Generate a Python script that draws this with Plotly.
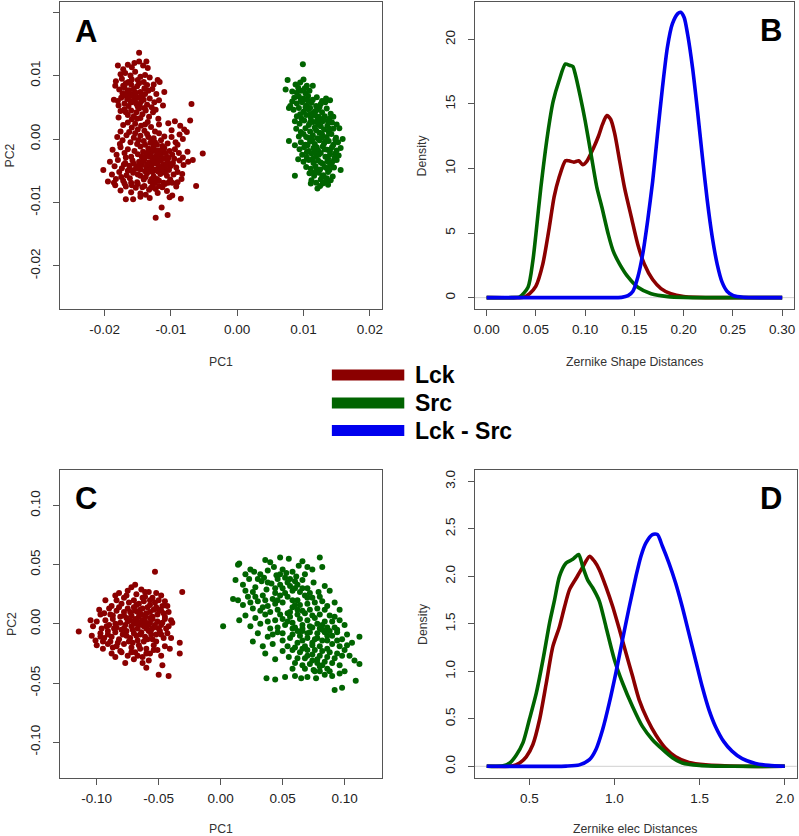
import plotly.graph_objects as go

W, H = 799, 836

# ---------------- DATA ----------------
# Panel A : PCA of Zernike shape descriptors (PC1, PC2)
lck_a = [
    (-14.8e-3, 13.6e-3), (-13.7e-3, 12.2e-3), (-18.0e-3, 11.6e-3), (-16.5e-3, 11.7e-3), (-15.5e-3, 12.0e-3),
    (-14.8e-3, 12.2e-3), (-13.5e-3, 11.2e-3), (-15.9e-3, 11.3e-3), (-17.2e-3, 11.0e-3), (-14.2e-3, 11.6e-3),
    (-18.3e-3, 9.1e-3), (-17.6e-3, 10.2e-3), (-16.9e-3, 10.4e-3), (-16.1e-3, 10.0e-3), (-15.4e-3, 10.6e-3),
    (-14.6e-3, 9.8e-3), (-13.9e-3, 10.1e-3), (-13.2e-3, 9.7e-3), (-12.0e-3, 9.3e-3), (-11.7e-3, 9.0e-3),
    (-15.0e-3, 9.3e-3), (-16.4e-3, 9.0e-3), (-17.4e-3, 9.5e-3), (-14.1e-3, 9.0e-3), (-12.6e-3, 8.6e-3),
    (-18.4e-3, 8.4e-3), (-17.8e-3, 7.8e-3), (-17.0e-3, 8.1e-3), (-16.5e-3, 7.5e-3), (-16.0e-3, 8.6e-3),
    (-15.6e-3, 7.9e-3), (-15.1e-3, 8.3e-3), (-14.6e-3, 7.4e-3), (-14.0e-3, 8.0e-3), (-13.4e-3, 7.6e-3),
    (-12.8e-3, 7.9e-3), (-11.0e-3, 7.4e-3), (-12.2e-3, 7.1e-3), (-17.3e-3, 7.2e-3), (-15.8e-3, 7.1e-3),
    (-14.4e-3, 7.0e-3), (-16.8e-3, 8.8e-3),
    (-18.6e-3, 6.2e-3), (-18.0e-3, 6.0e-3), (-17.5e-3, 6.5e-3), (-17.0e-3, 5.6e-3), (-16.6e-3, 6.3e-3),
    (-16.2e-3, 6.8e-3), (-15.9e-3, 5.8e-3), (-15.5e-3, 6.4e-3), (-15.2e-3, 5.5e-3), (-14.9e-3, 6.6e-3),
    (-14.5e-3, 5.9e-3), (-14.1e-3, 6.2e-3), (-13.6e-3, 5.4e-3), (-13.2e-3, 6.4e-3), (-12.5e-3, 5.8e-3),
    (-11.8e-3, 6.1e-3), (-16.4e-3, 5.2e-3), (-15.0e-3, 5.1e-3), (-17.9e-3, 5.3e-3), (-14.3e-3, 6.9e-3),
    (-15.7e-3, 6.9e-3), (-12.9e-3, 5.0e-3), (-11.2e-3, 5.3e-3),
    (-17.6e-3, 4.4e-3), (-17.0e-3, 4.7e-3), (-16.5e-3, 3.8e-3), (-16.0e-3, 4.5e-3), (-15.6e-3, 3.6e-3),
    (-15.2e-3, 4.2e-3), (-14.8e-3, 4.8e-3), (-14.3e-3, 3.9e-3), (-13.8e-3, 4.5e-3), (-13.3e-3, 3.5e-3),
    (-12.7e-3, 4.2e-3), (-11.9e-3, 3.2e-3), (-17.9e-3, 3.4e-3), (-15.9e-3, 3.1e-3), (-14.6e-3, 3.3e-3),
    (-12.3e-3, 4.6e-3), (-6.9e-3, 5.5e-3),
    (-17.2e-3, 2.2e-3), (-16.5e-3, 2.6e-3), (-15.9e-3, 1.8e-3), (-15.4e-3, 2.4e-3), (-15.0e-3, 1.5e-3),
    (-14.5e-3, 2.1e-3), (-14.0e-3, 1.3e-3), (-13.5e-3, 2.7e-3), (-13.0e-3, 1.9e-3), (-12.4e-3, 1.2e-3),
    (-11.8e-3, 2.3e-3), (-17.6e-3, 1.2e-3), (-16.3e-3, 1.1e-3), (-9.4e-3, 2.8e-3), (-8.6e-3, 2.1e-3),
    (-7.1e-3, 2.9e-3), (-9.9e-3, 1.4e-3), (-8.0e-3, 1.5e-3), (-10.4e-3, 2.5e-3), (-7.6e-3, 1.1e-3),
    (-18.1e-3, 0.3e-3), (-17.3e-3, -0.2e-3), (-16.7e-3, 0.6e-3), (-16.1e-3, -0.5e-3), (-15.6e-3, 0.2e-3),
    (-15.1e-3, -0.8e-3), (-14.6e-3, 0.5e-3), (-14.1e-3, -0.3e-3), (-13.6e-3, 0.8e-3), (-13.1e-3, -0.6e-3),
    (-12.6e-3, 0.1e-3), (-12.1e-3, -0.9e-3), (-11.5e-3, -0.2e-3), (-11.0e-3, 0.4e-3), (-10.5e-3, -0.7e-3),
    (-9.9e-3, 0.3e-3), (-9.3e-3, -0.5e-3), (-8.7e-3, 0.7e-3), (-13.9e-3, -0.9e-3), (-12.9e-3, -0.2e-3),
    (-11.8e-3, 0.9e-3), (-15.4e-3, 0.9e-3), (-17.7e-3, -0.8e-3), (-9.0e-3, -0.9e-3), (-8.2e-3, 0.0e-3),
    (-18.8e-3, -1.7e-3), (-18.2e-3, -2.5e-3), (-17.6e-3, -1.3e-3), (-17.0e-3, -2.2e-3), (-16.5e-3, -1.6e-3),
    (-16.0e-3, -2.8e-3), (-15.5e-3, -1.9e-3), (-15.0e-3, -2.4e-3), (-14.6e-3, -1.2e-3), (-14.2e-3, -2.0e-3),
    (-13.8e-3, -2.7e-3), (-13.4e-3, -1.5e-3), (-13.0e-3, -2.2e-3), (-12.6e-3, -1.1e-3), (-12.2e-3, -2.6e-3),
    (-11.8e-3, -1.8e-3), (-11.4e-3, -2.3e-3), (-11.0e-3, -1.4e-3), (-10.6e-3, -2.8e-3), (-10.2e-3, -1.9e-3),
    (-9.8e-3, -2.5e-3), (-9.4e-3, -1.6e-3), (-8.8e-3, -2.2e-3), (-8.2e-3, -2.9e-3), (-7.5e-3, -2.0e-3),
    (-5.2e-3, -2.3e-3), (-12.8e-3, -2.9e-3), (-11.6e-3, -2.9e-3), (-13.6e-3, -2.2e-3), (-12.4e-3, -1.8e-3),
    (-11.2e-3, -1.7e-3), (-14.4e-3, -2.8e-3), (-16.8e-3, -2.9e-3),
    (-19.2e-3, -3.6e-3), (-18.5e-3, -4.3e-3), (-18.0e-3, -3.3e-3), (-17.4e-3, -4.6e-3), (-16.9e-3, -3.8e-3),
    (-16.3e-3, -4.2e-3), (-15.8e-3, -3.4e-3), (-15.3e-3, -4.7e-3), (-14.8e-3, -3.6e-3), (-14.4e-3, -4.1e-3),
    (-14.0e-3, -3.2e-3), (-13.7e-3, -4.5e-3), (-13.3e-3, -3.7e-3), (-13.0e-3, -4.2e-3), (-12.7e-3, -3.4e-3),
    (-12.4e-3, -4.8e-3), (-12.1e-3, -3.9e-3), (-11.8e-3, -4.4e-3), (-11.5e-3, -3.3e-3), (-11.2e-3, -4.0e-3),
    (-10.9e-3, -4.6e-3), (-10.5e-3, -3.5e-3), (-10.1e-3, -4.3e-3), (-9.7e-3, -3.8e-3), (-9.2e-3, -4.5e-3),
    (-8.7e-3, -3.4e-3), (-8.1e-3, -4.1e-3), (-7.4e-3, -3.6e-3), (-6.7e-3, -3.3e-3), (-13.5e-3, -4.9e-3),
    (-12.2e-3, -3.1e-3), (-11.0e-3, -3.1e-3), (-14.6e-3, -4.8e-3), (-15.6e-3, -3.9e-3), (-12.9e-3, -4.6e-3),
    (-11.6e-3, -4.9e-3), (-10.3e-3, -4.9e-3), (-16.0e-3, -4.9e-3),
    (-20.2e-3, -4.9e-3), (-19.5e-3, -6.7e-3), (-18.9e-3, -5.6e-3), (-18.3e-3, -6.3e-3), (-17.8e-3, -5.2e-3),
    (-17.2e-3, -6.6e-3), (-16.7e-3, -5.7e-3), (-16.2e-3, -6.2e-3), (-15.7e-3, -5.3e-3), (-15.1e-3, -6.8e-3),
    (-14.6e-3, -5.8e-3), (-14.1e-3, -6.4e-3), (-13.6e-3, -5.4e-3), (-13.1e-3, -6.7e-3), (-12.6e-3, -5.9e-3),
    (-12.1e-3, -6.3e-3), (-11.6e-3, -5.5e-3), (-11.1e-3, -6.9e-3), (-10.6e-3, -5.8e-3), (-10.1e-3, -6.4e-3),
    (-9.6e-3, -5.6e-3), (-9.0e-3, -6.8e-3), (-8.3e-3, -5.5e-3), (-6.2e-3, -7.4e-3), (-18.6e-3, -6.9e-3),
    (-17.5e-3, -6.0e-3), (-16.0e-3, -6.9e-3), (-13.9e-3, -5.1e-3), (-12.4e-3, -6.9e-3), (-11.3e-3, -5.2e-3),
    (-9.8e-3, -6.9e-3),
    (-18.4e-3, -7.3e-3), (-17.6e-3, -8.1e-3), (-16.8e-3, -7.5e-3), (-16.0e-3, -8.4e-3), (-15.3e-3, -7.7e-3),
    (-14.6e-3, -8.6e-3), (-14.0e-3, -7.4e-3), (-13.3e-3, -8.0e-3), (-12.7e-3, -7.2e-3), (-12.0e-3, -8.5e-3),
    (-11.3e-3, -7.6e-3), (-10.6e-3, -8.2e-3), (-9.8e-3, -8.9e-3), (-9.2e-3, -7.5e-3), (-15.0e-3, -7.1e-3),
    (-13.8e-3, -8.8e-3), (-12.3e-3, -7.9e-3), (-10.9e-3, -7.1e-3),
    (-16.8e-3, -9.5e-3), (-15.7e-3, -9.5e-3), (-14.6e-3, -9.1e-3), (-13.2e-3, -9.3e-3), (-11.4e-3, -10.8e-3),
    (-12.3e-3, -12.4e-3), (-10.5e-3, -12.0e-3), (-8.5e-3, -9.4e-3), (-10.2e-3, -9.2e-3),
    # dense cores
    (-16.3e-3, 7.7e-3), (-15.3e-3, 7.3e-3), (-14.8e-3, 8.8e-3), (-16.9e-3, 6.9e-3), (-15.4e-3, 5.9e-3),
    (-14.7e-3, 5.4e-3), (-16.1e-3, 6.0e-3), (-13.9e-3, 7.1e-3), (-17.2e-3, 8.4e-3), (-15.9e-3, 9.4e-3),
    (-13.6e-3, 8.5e-3), (-14.0e-3, 4.9e-3), (-16.8e-3, 4.2e-3), (-15.1e-3, 3.2e-3), (-13.9e-3, 2.3e-3),
    (-14.9e-3, -0.2e-3), (-13.4e-3, 0.3e-3), (-12.4e-3, -0.5e-3), (-11.3e-3, -1.1e-3), (-10.8e-3, -2.2e-3),
    (-11.9e-3, -2.4e-3), (-12.9e-3, -1.6e-3), (-13.2e-3, -2.8e-3), (-12.5e-3, -3.8e-3), (-11.9e-3, -3.5e-3),
    (-11.4e-3, -4.7e-3), (-10.7e-3, -4.1e-3), (-13.6e-3, -4.0e-3), (-14.2e-3, -3.5e-3), (-12.8e-3, -5.2e-3),
    (-12.0e-3, -5.1e-3), (-10.9e-3, -5.3e-3), (-9.9e-3, -4.0e-3), (-9.5e-3, -3.1e-3), (-10.4e-3, -3.0e-3),
    (-12.9e-3, -6.3e-3), (-11.8e-3, -6.6e-3), (-10.4e-3, -6.9e-3), (-13.8e-3, -6.0e-3), (-15.0e-3, -5.6e-3),
    (-16.5e-3, -5.0e-3), (-17.1e-3, -4.0e-3), (-15.1e-3, -4.3e-3), (-14.3e-3, -7.6e-3), (-11.8e-3, -7.4e-3),
    (-13.0e-3, -7.7e-3), (-15.9e-3, -7.3e-3), (-17.0e-3, -7.0e-3), (-9.0e-3, -5.2e-3), (-8.4e-3, -6.3e-3),
]

src_a = [
    (9.9e-3, 11.8e-3), (7.6e-3, 9.3e-3), (10.0e-3, 9.4e-3), (8.8e-3, 8.6e-3), (9.5e-3, 8.9e-3),
    (10.5e-3, 8.4e-3), (7.3e-3, 7.8e-3), (11.4e-3, 8.4e-3), (9.2e-3, 8.1e-3), (10.2e-3, 8.0e-3),
    (8.3e-3, 7.5e-3), (9.0e-3, 7.3e-3), (9.6e-3, 7.6e-3), (10.3e-3, 7.2e-3), (10.9e-3, 7.6e-3),
    (8.6e-3, 6.5e-3), (9.3e-3, 6.7e-3), (10.0e-3, 6.4e-3), (10.7e-3, 6.8e-3), (11.4e-3, 6.2e-3),
    (12.0e-3, 6.6e-3), (13.4e-3, 6.4e-3), (12.8e-3, 6.0e-3), (8.3e-3, 5.9e-3), (9.0e-3, 5.6e-3),
    (9.8e-3, 5.8e-3), (10.5e-3, 5.3e-3), (11.2e-3, 5.7e-3), (11.9e-3, 5.2e-3), (12.6e-3, 5.5e-3),
    (13.3e-3, 5.8e-3), (14.0e-3, 6.1e-3), (8.0e-3, 5.2e-3), (7.8e-3, 4.9e-3),
    (8.5e-3, 4.6e-3), (9.3e-3, 4.9e-3), (10.0e-3, 4.3e-3), (10.7e-3, 4.7e-3), (11.4e-3, 4.1e-3),
    (12.1e-3, 4.6e-3), (12.8e-3, 4.2e-3), (13.5e-3, 4.8e-3), (14.1e-3, 4.0e-3), (9.0e-3, 3.6e-3),
    (9.7e-3, 3.2e-3), (10.4e-3, 3.8e-3), (11.1e-3, 3.3e-3), (11.8e-3, 3.7e-3), (12.5e-3, 3.1e-3),
    (13.2e-3, 3.6e-3), (13.9e-3, 3.2e-3), (14.5e-3, 3.5e-3), (8.7e-3, 2.8e-3), (9.4e-3, 2.4e-3),
    (10.1e-3, 2.9e-3), (10.8e-3, 2.2e-3), (11.5e-3, 2.7e-3), (12.2e-3, 2.3e-3), (12.9e-3, 2.8e-3),
    (13.6e-3, 2.1e-3), (14.3e-3, 2.6e-3), (15.0e-3, 2.3e-3), (11.0e-3, 4.9e-3), (12.4e-3, 5.0e-3),
    (8.9e-3, 1.6e-3), (9.6e-3, 1.1e-3), (10.3e-3, 1.7e-3), (11.0e-3, 1.2e-3), (11.7e-3, 1.8e-3),
    (12.4e-3, 1.0e-3), (13.1e-3, 1.5e-3), (13.8e-3, 1.1e-3), (14.5e-3, 1.6e-3), (15.4e-3, 1.7e-3),
    (9.3e-3, 0.4e-3), (10.0e-3, 0.8e-3), (10.7e-3, 0.2e-3), (11.4e-3, 0.6e-3), (12.1e-3, 0.1e-3),
    (12.8e-3, 0.7e-3), (13.5e-3, 0.3e-3), (14.2e-3, 0.8e-3), (14.9e-3, 0.2e-3), (15.9e-3, 0.0e-3),
    (7.8e-3, -0.3e-3), (8.7e-3, -1.0e-3), (9.6e-3, -0.5e-3), (10.3e-3, -0.9e-3), (11.0e-3, -0.4e-3),
    (11.7e-3, -0.8e-3), (12.4e-3, -0.2e-3), (13.1e-3, -0.7e-3), (13.8e-3, -0.3e-3), (14.5e-3, -0.9e-3),
    (15.2e-3, -0.5e-3),
    (9.4e-3, -1.6e-3), (10.1e-3, -1.3e-3), (10.8e-3, -1.9e-3), (11.5e-3, -1.4e-3), (12.2e-3, -1.8e-3),
    (12.9e-3, -1.2e-3), (13.6e-3, -1.7e-3), (14.3e-3, -1.3e-3), (15.0e-3, -1.8e-3), (15.6e-3, -1.4e-3),
    (9.8e-3, -2.5e-3), (10.5e-3, -2.9e-3), (11.2e-3, -2.3e-3), (11.9e-3, -2.7e-3), (12.6e-3, -2.2e-3),
    (13.3e-3, -2.8e-3), (14.0e-3, -2.4e-3), (14.7e-3, -2.9e-3), (15.3e-3, -2.6e-3), (10.0e-3, -3.6e-3),
    (10.8e-3, -3.3e-3), (11.5e-3, -3.8e-3), (12.2e-3, -3.4e-3), (12.9e-3, -3.9e-3), (13.6e-3, -3.5e-3),
    (14.3e-3, -3.7e-3), (15.0e-3, -3.3e-3), (9.2e-3, -3.2e-3),
    (10.4e-3, -4.4e-3), (11.1e-3, -4.7e-3), (11.8e-3, -4.3e-3), (12.5e-3, -4.8e-3), (13.2e-3, -4.4e-3),
    (13.9e-3, -4.9e-3), (14.6e-3, -4.5e-3), (15.6e-3, -4.9e-3), (8.7e-3, -5.8e-3), (10.9e-3, -5.4e-3),
    (11.6e-3, -5.8e-3), (12.3e-3, -5.3e-3), (13.0e-3, -5.7e-3), (13.7e-3, -5.2e-3), (14.4e-3, -5.9e-3),
    (11.2e-3, -6.5e-3), (11.9e-3, -6.9e-3), (12.6e-3, -6.4e-3), (13.3e-3, -6.8e-3), (14.1e-3, -6.5e-3),
    (12.1e-3, -7.8e-3), (11.1e-3, -7.0e-3), (12.5e-3, -7.4e-3), (13.7e-3, -7.2e-3),
    # dense core
    (10.6e-3, 6.1e-3), (11.0e-3, 3.9e-3), (11.8e-3, 4.4e-3), (12.3e-3, 3.5e-3), (13.0e-3, 3.2e-3),
    (12.6e-3, 2.0e-3), (11.9e-3, 1.4e-3), (12.7e-3, 0.2e-3), (13.3e-3, -0.4e-3), (12.0e-3, -1.3e-3),
    (13.2e-3, -1.6e-3), (14.0e-3, -1.9e-3), (12.3e-3, -2.5e-3), (13.7e-3, -3.1e-3), (12.6e-3, -3.7e-3),
    (13.5e-3, -4.6e-3), (12.0e-3, -4.9e-3), (14.0e-3, -4.1e-3), (12.8e-3, -6.0e-3), (13.5e-3, -6.2e-3),
    (11.6e-3, -2.1e-3), (10.6e-3, -1.0e-3), (10.4e-3, 0.3e-3), (11.3e-3, -0.1e-3), (14.8e-3, -0.1e-3),
    (14.8e-3, -2.3e-3), (9.5e-3, 3.9e-3), (10.3e-3, 5.0e-3), (9.6e-3, 6.2e-3), (12.1e-3, 3.0e-3),
    (13.7e-3, 2.8e-3), (11.0e-3, 2.6e-3), (10.5e-3, -2.1e-3), (11.4e-3, -3.1e-3), (14.6e-3, -3.3e-3),
    (13.9e-3, 1.6e-3), (11.6e-3, -5.3e-3), (12.9e-3, -7.0e-3),
]

# Panel C : PCA of Zernike electrostatic descriptors (PC1, PC2)
lck_c = [
    (-114.5e-3, -6.5e-3), (-31e-3, 27e-3), (-33e-3, -16e-3), (-33e-3, -25e-3), (-53e-3, 44e-3),
    (-42e-3, -44e-3), (-50e-3, -43e-3), (-47e-3, -35e-3), (-105e-3, 3e-3), (-97e-3, 8e-3),
    (-93e-3, 20e-3), (-60e-3, -37e-3), (-69e-3, 33e-3), (-82e-3, 26e-3),
    (-85e-3, 24e-3), (-78e-3, 22e-3), (-75e-3, 28e-3), (-72e-3, 31e-3), (-68e-3, 25e-3),
    (-64e-3, 29e-3), (-61e-3, 23e-3), (-58e-3, 27e-3), (-55e-3, 22e-3), (-52e-3, 26e-3),
    (-48e-3, 24e-3), (-45e-3, 19e-3), (-80e-3, 17e-3), (-74e-3, 18e-3), (-70e-3, 20e-3),
    (-66e-3, 17e-3), (-62e-3, 19e-3), (-57e-3, 16e-3), (-53e-3, 18e-3), (-88e-3, 15e-3), (-43e-3, 15e-3),
    (-98e-3, 12e-3), (-94e-3, 9e-3), (-90e-3, 13e-3), (-87e-3, 7e-3), (-84e-3, 11e-3),
    (-81e-3, 6e-3), (-78e-3, 10e-3), (-75e-3, 13e-3), (-72e-3, 7e-3), (-69e-3, 11e-3),
    (-66e-3, 6e-3), (-63e-3, 13e-3), (-60e-3, 9e-3), (-57e-3, 5e-3), (-54e-3, 12e-3),
    (-51e-3, 8e-3), (-48e-3, 11e-3), (-45e-3, 6e-3), (-42e-3, 10e-3), (-40e-3, 3e-3),
    (-70e-3, 14e-3), (-59e-3, 14e-3), (-76e-3, 5e-3), (-64e-3, 8e-3), (-55e-3, 6e-3),
    (-82e-3, 14e-3), (-67e-3, 10e-3), (-52e-3, 14e-3),
    (-103e-3, -2e-3), (-100e-3, 2e-3), (-96e-3, -4e-3), (-93e-3, 3e-3), (-90e-3, -1e-3),
    (-87e-3, 4e-3), (-84e-3, -3e-3), (-81e-3, 1e-3), (-78e-3, -4e-3), (-75e-3, 2e-3),
    (-72e-3, -2e-3), (-69e-3, 4e-3), (-66e-3, -1e-3), (-63e-3, 3e-3), (-60e-3, -4e-3),
    (-57e-3, 1e-3), (-54e-3, -3e-3), (-51e-3, 2e-3), (-48e-3, -1e-3), (-45e-3, 4e-3),
    (-42e-3, -2e-3), (-39e-3, 1e-3), (-70e-3, 0e-3), (-64e-3, 0e-3), (-58e-3, -1e-3),
    (-77e-3, -1e-3), (-61e-3, 2e-3), (-67e-3, -4e-3), (-55e-3, 4e-3), (-85e-3, 0e-3),
    (-104e-3, -10e-3), (-101e-3, -14e-3), (-97e-3, -8e-3), (-94e-3, -12e-3), (-91e-3, -6e-3),
    (-88e-3, -11e-3), (-85e-3, -7e-3), (-82e-3, -13e-3), (-79e-3, -9e-3), (-76e-3, -6e-3),
    (-73e-3, -12e-3), (-70e-3, -8e-3), (-67e-3, -14e-3), (-64e-3, -7e-3), (-61e-3, -11e-3),
    (-58e-3, -6e-3), (-55e-3, -13e-3), (-52e-3, -9e-3), (-49e-3, -6e-3), (-46e-3, -12e-3),
    (-43e-3, -8e-3), (-74e-3, -15e-3), (-62e-3, -15e-3), (-68e-3, -10e-3), (-56e-3, -9e-3),
    (-80e-3, -5e-3), (-89e-3, -15e-3),
    (-100e-3, -18e-3), (-95e-3, -21e-3), (-91e-3, -17e-3), (-88e-3, -25e-3), (-84e-3, -19e-3),
    (-81e-3, -23e-3), (-78e-3, -17e-3), (-75e-3, -27e-3), (-72e-3, -20e-3), (-69e-3, -24e-3),
    (-66e-3, -18e-3), (-63e-3, -28e-3), (-60e-3, -21e-3), (-57e-3, -25e-3), (-54e-3, -18e-3),
    (-51e-3, -22e-3), (-48e-3, -27e-3), (-45e-3, -19e-3), (-85e-3, -28e-3), (-70e-3, -30e-3),
    (-58e-3, -31e-3), (-63e-3, -33e-3), (-41e-3, -21e-3), (-77e-3, -33e-3),
    # dense core
    (-73e-3, 3e-3), (-67e-3, 2e-3), (-62e-3, -2e-3), (-56e-3, -5e-3), (-71e-3, -5e-3),
    (-65e-3, -9e-3), (-59e-3, -13e-3), (-53e-3, -1e-3), (-50e-3, -4e-3), (-47e-3, 1e-3),
    (-78e-3, 7e-3), (-73e-3, 10e-3), (-65e-3, 12e-3), (-61e-3, 6e-3), (-57e-3, 10e-3),
    (-50e-3, 12e-3), (-46e-3, 9e-3), (-68e-3, 16e-3), (-63e-3, 22e-3), (-57e-3, 20e-3),
    (-50e-3, 20e-3), (-76e-3, -10e-3), (-71e-3, -16e-3), (-65e-3, -21e-3), (-86e-3, -4e-3),
    (-91e-3, -9e-3), (-83e-3, -16e-3), (-95e-3, -15e-3), (-97e-3, -11e-3), (-52e-3, -15e-3),
    (-48e-3, -9e-3), (-44e-3, -4e-3), (-60e-3, -25e-3), (-67e-3, -27e-3), (-72e-3, -24e-3),
    (-80e-3, -24e-3), (-87e-3, -20e-3), (-92e-3, -2e-3), (-89e-3, 8e-3), (-84e-3, 20e-3),
    (-76e-3, 24e-3), (-61e-3, 27e-3), (-47e-3, 15e-3), (-40e-3, -12e-3), (-54e-3, -22e-3),
]

src_c = [
    (15e-3, 51e-3), (14e-3, 50e-3), (36e-3, 54e-3), (48e-3, 56e-3), (55e-3, 55e-3),
    (80e-3, 56e-3), (82e-3, 48e-3), (27e-3, 44e-3), (32e-3, 42e-3), (38e-3, 45e-3),
    (43e-3, 48e-3), (50e-3, 46e-3), (58e-3, 44e-3), (63e-3, 49e-3), (68e-3, 42e-3),
    (74e-3, 46e-3), (20e-3, 42e-3), (45e-3, 41e-3), (53e-3, 43e-3), (61e-3, 40e-3),
    (70e-3, 48e-3), (24e-3, 46e-3), (40e-3, 52e-3), (66e-3, 53e-3),
    (12e-3, 37e-3), (18e-3, 33e-3), (23e-3, 38e-3), (28e-3, 31e-3), (33e-3, 36e-3),
    (37e-3, 29e-3), (41e-3, 34e-3), (46e-3, 38e-3), (50e-3, 30e-3), (54e-3, 35e-3),
    (58e-3, 28e-3), (62e-3, 33e-3), (66e-3, 37e-3), (70e-3, 30e-3), (75e-3, 35e-3),
    (79e-3, 27e-3), (84e-3, 32e-3), (26e-3, 27e-3), (44e-3, 26e-3), (52e-3, 39e-3),
    (60e-3, 36e-3), (72e-3, 26e-3), (35e-3, 39e-3), (48e-3, 33e-3), (64e-3, 27e-3),
    (88e-3, 28e-3), (20e-3, 28e-3), (56e-3, 32e-3),
    (10e-3, 21e-3), (14e-3, 20e-3), (18e-3, 16e-3), (22e-3, 23e-3), (26e-3, 13e-3),
    (30e-3, 19e-3), (34e-3, 24e-3), (38e-3, 15e-3), (42e-3, 21e-3), (46e-3, 12e-3),
    (50e-3, 18e-3), (54e-3, 23e-3), (58e-3, 14e-3), (62e-3, 20e-3), (66e-3, 11e-3),
    (70e-3, 17e-3), (74e-3, 22e-3), (78e-3, 13e-3), (82e-3, 19e-3), (86e-3, 15e-3),
    (92e-3, 18e-3), (96e-3, 12e-3), (32e-3, 11e-3), (44e-3, 17e-3), (56e-3, 10e-3),
    (68e-3, 24e-3), (80e-3, 23e-3), (48e-3, 24e-3), (60e-3, 16e-3), (36e-3, 20e-3),
    (72e-3, 12e-3), (24e-3, 18e-3),
    (15e-3, 3e-3), (20e-3, 7e-3), (24e-3, -2e-3), (28e-3, 5e-3), (32e-3, 0e-3),
    (36e-3, 8e-3), (40e-3, -4e-3), (44e-3, 3e-3), (48e-3, 8e-3), (52e-3, -1e-3),
    (56e-3, 6e-3), (60e-3, -3e-3), (64e-3, 4e-3), (68e-3, 9e-3), (72e-3, -2e-3),
    (76e-3, 5e-3), (80e-3, -4e-3), (84e-3, 2e-3), (88e-3, 7e-3), (92e-3, -3e-3),
    (96e-3, 3e-3), (100e-3, -1e-3), (2e-3, -2e-3), (46e-3, -3e-3), (58e-3, 1e-3),
    (70e-3, 3e-3), (82e-3, -1e-3), (62e-3, 8e-3), (74e-3, 7e-3), (50e-3, 4e-3),
    (66e-3, -4e-3), (86e-3, -3e-3), (54e-3, 9e-3), (78e-3, 0e-3), (90e-3, 2e-3),
    (38e-3, 2e-3), (94e-3, -5e-3),
    (26e-3, -15e-3), (30e-3, -8e-3), (34e-3, -19e-3), (38e-3, -11e-3), (42e-3, -17e-3),
    (46e-3, -7e-3), (50e-3, -14e-3), (54e-3, -19e-3), (58e-3, -9e-3), (62e-3, -16e-3),
    (66e-3, -6e-3), (70e-3, -12e-3), (74e-3, -18e-3), (78e-3, -8e-3), (82e-3, -14e-3),
    (86e-3, -10e-3), (90e-3, -17e-3), (94e-3, -7e-3), (98e-3, -13e-3), (102e-3, -9e-3),
    (106e-3, -16e-3), (112e-3, -11e-3), (56e-3, -12e-3), (68e-3, -19e-3), (80e-3, -19e-3),
    (76e-3, -13e-3), (64e-3, -10e-3), (88e-3, -6e-3), (72e-3, -7e-3), (96e-3, -19e-3),
    (60e-3, -20e-3), (84e-3, -7e-3),
    (36e-3, -25e-3), (44e-3, -30e-3), (50e-3, -23e-3), (55e-3, -28e-3), (60e-3, -33e-3),
    (64e-3, -24e-3), (68e-3, -29e-3), (72e-3, -34e-3), (76e-3, -22e-3), (80e-3, -27e-3),
    (84e-3, -32e-3), (88e-3, -24e-3), (92e-3, -29e-3), (96e-3, -35e-3), (100e-3, -22e-3),
    (104e-3, -27e-3), (108e-3, -31e-3), (112e-3, -34e-3), (66e-3, -35e-3), (78e-3, -33e-3),
    (86e-3, -21e-3), (94e-3, -25e-3), (74e-3, -26e-3), (58e-3, -22e-3), (70e-3, -22e-3),
    (82e-3, -35e-3),
    (37e-3, -46e-3), (44e-3, -47e-3), (52e-3, -45e-3), (60e-3, -44e-3), (65e-3, -46e-3),
    (70e-3, -45e-3), (77e-3, -46e-3), (80e-3, -40e-3), (86e-3, -38e-3), (92e-3, -56e-3),
    (98e-3, -54e-3), (109e-3, -48e-3), (75e-3, -39e-3), (90e-3, -44e-3), (96e-3, -42e-3),
    (68e-3, -38e-3), (84e-3, -43e-3), (58e-3, -38e-3), (100e-3, -40e-3),
    # dense core
    (62e-3, -6e-3), (66e-3, -1e-3), (70e-3, -8e-3), (74e-3, -3e-3), (78e-3, -12e-3),
    (82e-3, -5e-3), (86e-3, -14e-3), (90e-3, -10e-3), (74e-3, -16e-3), (66e-3, -14e-3),
    (58e-3, -4e-3), (54e-3, 2e-3), (62e-3, 12e-3), (58e-3, 20e-3), (52e-3, 26e-3),
    (46e-3, 20e-3), (40e-3, 10e-3), (44e-3, 30e-3), (38e-3, 35e-3), (30e-3, 38e-3),
    (34e-3, 14e-3), (28e-3, 23e-3), (64e-3, 16e-3), (76e-3, 18e-3), (70e-3, -27e-3),
    (78e-3, -30e-3), (82e-3, -23e-3), (90e-3, -33e-3), (86e-3, -28e-3), (74e-3, -31e-3),
    (62e-3, -29e-3), (98e-3, -27e-3), (102e-3, -18e-3), (94e-3, -14e-3), (80e-3, 8e-3),
    (70e-3, 22e-3), (56e-3, 38e-3), (48e-3, 42e-3), (60e-3, 30e-3), (66e-3, 30e-3),
    (92e-3, 6e-3), (84e-3, 12e-3), (42e-3, -9e-3), (50e-3, -8e-3), (66e-3, -21e-3),
    (88e-3, -40e-3), (80e-3, -36e-3), (76e-3, -40e-3),
]

# Panel B : density of Zernike shape distances
b_lck_x = [0.0, 0.030, 0.037, 0.0434, 0.050, 0.057, 0.0635, 0.0685, 0.0735, 0.080, 0.0835, 0.0885,
           0.0935, 0.0975, 0.102, 0.1085, 0.1135, 0.1175, 0.122, 0.126, 0.130, 0.135, 0.140, 0.147,
           0.1535, 0.160, 0.1685, 0.177, 0.187, 0.200, 0.214, 0.240, 0.300]
b_lck_y = [0, 0, 0.02, 0.3, 0.9, 2.6, 5.4, 7.8, 9.3, 10.6, 10.6, 10.5, 10.6, 10.3, 10.6, 11.6, 12.5,
           13.4, 14.1, 13.8, 12.7, 10.6, 8.5, 6.2, 4.1, 2.6, 1.4, 0.7, 0.3, 0.08, 0.02, 0, 0]
b_src_x = [0.0, 0.025, 0.0334, 0.042, 0.047, 0.050, 0.055, 0.062, 0.0675, 0.0735, 0.080, 0.084,
           0.0875, 0.090, 0.095, 0.100, 0.106, 0.112, 0.117, 0.1235, 0.1285, 0.135, 0.1435, 0.1535,
           0.167, 0.184, 0.200, 0.230, 0.300]
b_src_y = [0, 0, 0.05, 0.8, 2.9, 4.9, 8.5, 12.7, 15.2, 16.8, 18.1, 18.0, 17.9, 17.3, 15.6, 13.7,
           11.1, 8.5, 7.0, 4.9, 3.6, 2.6, 1.6, 0.8, 0.3, 0.08, 0.02, 0, 0]
b_diff_x = [0.0, 0.120, 0.137, 0.1435, 0.1485, 0.1535, 0.1585, 0.1635, 0.1685, 0.1735, 0.1785,
            0.1835, 0.1885, 0.194, 0.197, 0.2005, 0.204, 0.209, 0.214, 0.219, 0.224, 0.229, 0.234,
            0.239, 0.244, 0.2505, 0.2605, 0.280, 0.300]
b_diff_y = [0, 0, 0.02, 0.15, 0.5, 1.6, 3.4, 6.0, 9.0, 12.7, 16.3, 19.4, 21.2, 22.0, 22.1, 21.7,
            20.4, 17.8, 14.5, 10.9, 7.5, 4.7, 2.6, 1.2, 0.5, 0.15, 0.03, 0, 0]

# Panel D : density of Zernike electrostatic distances
d_lck_x = [0.25, 0.404, 0.443, 0.482, 0.521, 0.56, 0.60, 0.638, 0.677, 0.707, 0.736, 0.775, 0.814,
           0.853, 0.882, 0.911, 0.95, 0.99, 1.029, 1.068, 1.106, 1.145, 1.194, 1.243, 1.30, 1.359,
           1.437, 1.535, 1.75, 2.0]
d_lck_y = [0, 0.005, 0.035, 0.1, 0.23, 0.49, 0.88, 1.26, 1.47, 1.68, 1.86, 1.98, 2.1, 2.21, 2.16,
           2.07, 1.89, 1.68, 1.44, 1.19, 0.95, 0.70, 0.49, 0.33, 0.19, 0.1, 0.04, 0.015, 0.0, 0.0]
d_src_x = [0.25, 0.346, 0.385, 0.424, 0.463, 0.50, 0.541, 0.58, 0.619, 0.648, 0.677, 0.716, 0.755,
           0.79, 0.814, 0.843, 0.872, 0.911, 0.95, 1.0, 1.047, 1.106, 1.164, 1.223, 1.281, 1.34,
           1.398, 1.5, 1.7, 2.0]
d_src_y = [0, 0.005, 0.035, 0.12, 0.25, 0.49, 0.77, 1.12, 1.51, 1.75, 2.0, 2.14, 2.18, 2.23, 2.1,
           1.96, 1.88, 1.74, 1.47, 1.12, 0.88, 0.63, 0.42, 0.28, 0.18, 0.09, 0.035, 0.01, 0.0, 0.0]
d_diff_x = [0.25, 0.716, 0.794, 0.853, 0.892, 0.931, 0.97, 1.01, 1.047, 1.087, 1.126, 1.155, 1.184,
            1.223, 1.252, 1.281, 1.32, 1.359, 1.398, 1.437, 1.476, 1.515, 1.554, 1.593, 1.642, 1.69,
            1.75, 1.828, 1.906, 2.0]
d_diff_y = [0, 0.002, 0.015, 0.07, 0.18, 0.39, 0.67, 1.0, 1.33, 1.68, 2.0, 2.21, 2.35, 2.44, 2.44,
            2.32, 2.14, 1.93, 1.68, 1.40, 1.12, 0.84, 0.60, 0.42, 0.26, 0.16, 0.08, 0.03, 0.01, 0.0]

# tick labels
a_ticks = [-0.02, -0.01, 0.0, 0.01, 0.02]
a_ticktext = ["-0.02", "-0.01", "0.00", "0.01", "0.02"]
c_ticks = [-0.10, -0.05, 0.0, 0.05, 0.10]
c_ticktext = ["-0.10", "-0.05", "0.00", "0.05", "0.10"]
b_xticks = [0.0, 0.05, 0.10, 0.15, 0.20, 0.25, 0.30]
b_xticktext = ["0.00", "0.05", "0.10", "0.15", "0.20", "0.25", "0.30"]
b_yticks = [0, 5, 10, 15, 20]
b_yticktext = ["0", "5", "10", "15", "20"]
d_xticks = [0.5, 1.0, 1.5, 2.0]
d_xticktext = ["0.5", "1.0", "1.5", "2.0"]
d_yticks = [0.0, 0.5, 1.0, 1.5, 2.0, 2.5, 3.0]
d_yticktext = ["0.0", "0.5", "1.0", "1.5", "2.0", "2.5", "3.0"]

series_names = ["Lck", "Src", "Lck - Src"]
RED, GREEN, BLUE = "#8B0000", "#006400", "#0000EE"

# ---------------- LAYOUT HELPERS (pixel -> paper) ----------------
def px(x):
    return x / W

def py(y):
    return 1 - y / H

FONT = "Liberation Sans, Arial, sans-serif"
TICKFONT = dict(family=FONT, size=13.5, color="#222")

fig = go.Figure()

def scatter(data, color, xa, ya, name):
    fig.add_trace(go.Scatter(
        x=[p[0] for p in data], y=[p[1] for p in data], mode="markers",
        marker=dict(color=color, size=6, line=dict(width=0)),
        xaxis=xa, yaxis=ya, name=name, showlegend=False))

def curve(xs, ys, color, xa, ya, name):
    fig.add_trace(go.Scatter(
        x=xs, y=ys, mode="lines", line=dict(color=color, width=3.6, shape="spline", smoothing=0.7),
        xaxis=xa, yaxis=ya, name=name, showlegend=False))

scatter(lck_a, RED, "x", "y", "Lck")
scatter(src_a, GREEN, "x", "y", "Src")
curve(b_lck_x, b_lck_y, RED, "x2", "y2", "Lck")
curve(b_src_x, b_src_y, GREEN, "x2", "y2", "Src")
curve(b_diff_x, b_diff_y, BLUE, "x2", "y2", "Lck - Src")
scatter(lck_c, RED, "x3", "y3", "Lck")
scatter(src_c, GREEN, "x3", "y3", "Src")
curve(d_lck_x, d_lck_y, RED, "x4", "y4", "Lck")
curve(d_src_x, d_src_y, GREEN, "x4", "y4", "Src")
curve(d_diff_x, d_diff_y, BLUE, "x4", "y4", "Lck - Src")

def axis(domain, rng, tv, tt, anchor, is_y):
    d = dict(domain=domain, range=rng, tickvals=tv, ticktext=tt, anchor=anchor,
             showline=True, mirror=True, linecolor="#555", linewidth=1,
             ticks="outside", ticklen=6, tickcolor="#555", tickwidth=1,
             showgrid=False, zeroline=False, tickfont=TICKFONT, fixedrange=True)
    if is_y:
        d["tickangle"] = -90
        d["ticklabelstandoff"] = 7
    else:
        d["ticklabelstandoff"] = 2
    return d

xa_left = [px(58.7), px(381.7)]
xa_right_top = [px(475), px(795)]
xa_right_bot = [px(475), px(797.7)]
ya_top = [py(309), py(2)]
ya_bot = [py(777.7), py(470)]

fig.update_layout(
    width=W, height=H, autosize=False,
    margin=dict(l=0, r=0, t=0, b=0),
    paper_bgcolor="white", plot_bgcolor="white",
    showlegend=False, hovermode=False,
    xaxis=axis(xa_left, [-0.0268, 0.0218], a_ticks, a_ticktext, "y", False),
    yaxis=axis(ya_top, [-0.0268, 0.0216], a_ticks, a_ticktext, "x", True),
    xaxis2=axis(xa_right_top, [-0.012, 0.312], b_xticks, b_xticktext, "y2", False),
    yaxis2=axis(ya_top, [-0.88, 22.9], b_yticks, b_yticktext, "x2", True),
    xaxis3=axis(xa_left, [-0.13, 0.13], c_ticks, c_ticktext, "y3", False),
    yaxis3=axis(ya_bot, [-0.13, 0.13], c_ticks, c_ticktext, "x3", True),
    xaxis4=axis(xa_right_bot, [0.18, 2.07], d_xticks, d_xticktext, "y4", False),
    yaxis4=axis(ya_bot, [-0.12, 3.12], d_yticks, d_yticktext, "x4", True),
)

# zero reference lines in density panels (as drawn by R's plot.density)
for xr, yr in (("x2", "y2"), ("x4", "y4")):
    fig.add_shape(type="line", xref=xr + " domain", yref=yr, x0=0, x1=1, y0=0, y1=0,
                  line=dict(color="#d0d0d0", width=1), layer="below")

ann = []
TITLEFONT = dict(family=FONT, size=12.3, color="#333")
# axis titles
ann += [
    dict(text="PC1", x=px(220.2), y=py(362), font=TITLEFONT),
    dict(text="PC2", x=px(10), y=py(155.5), font=TITLEFONT, textangle=-90),
    dict(text="Zernike Shape Distances", x=px(635), y=py(362), font=TITLEFONT),
    dict(text="Density", x=px(423), y=py(155.5), font=TITLEFONT, textangle=-90),
    dict(text="PC1", x=px(220.2), y=py(829), font=TITLEFONT),
    dict(text="PC2", x=px(11), y=py(624), font=TITLEFONT, textangle=-90),
    dict(text="Zernike elec Distances", x=px(636), y=py(829), font=TITLEFONT),
    dict(text="Density", x=px(423), y=py(624), font=TITLEFONT, textangle=-90),
]
# panel letters
LETTER = dict(family=FONT, size=31, color="black")
for t, x, y in (("A", 85, 32), ("B", 771.7, 30), ("C", 85, 498), ("D", 771.7, 498)):
    ann.append(dict(text="<b>%s</b>" % t, x=px(x), y=py(y), font=LETTER))

# legend (swatches + labels)
LEGFONT = dict(family=FONT, size=23, color="black")
for name, col, yc in zip(series_names, (RED, GREEN, BLUE), (375, 403, 430.5)):
    fig.add_shape(type="rect", xref="paper", yref="paper",
                  x0=px(331.7), x1=px(404.3), y0=py(yc - 5.5), y1=py(yc + 5.5),
                  fillcolor=col, line=dict(width=0))
    ann.append(dict(text="<b>%s</b>" % name, x=px(413), y=py(yc), xanchor="left",
                    font=LEGFONT))

for a in ann:
    a.setdefault("xanchor", "center")
    a.update(xref="paper", yref="paper", showarrow=False, yanchor="middle")
fig.update_layout(annotations=ann)

fig.write_html("out.html",
               config={"displayModeBar": False, "staticPlot": True},
               post_script="document.body.style.margin='0px';document.body.style.overflow='hidden';")
